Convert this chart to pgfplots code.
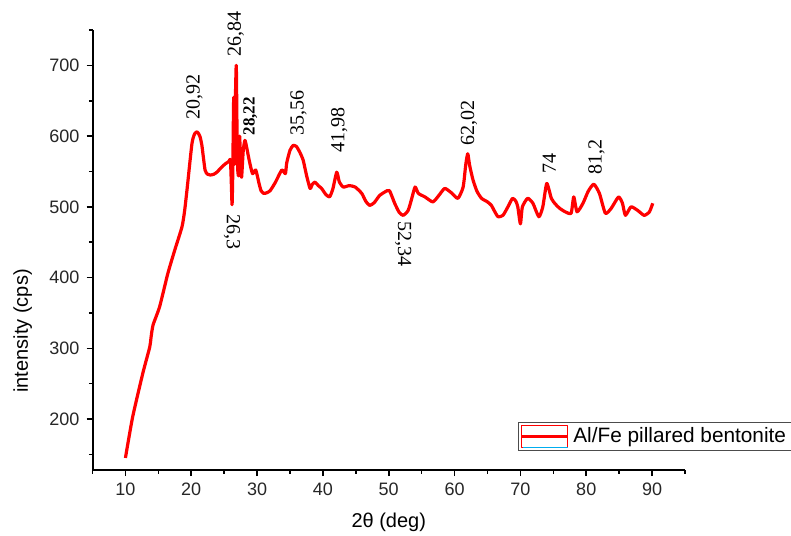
\documentclass[border=0pt]{standalone}
\usepackage{pgfplots}
\pgfplotsset{compat=1.18}
\usepackage{fontspec}
\setmainfont{Liberation Sans}
\newfontfamily\timesf{Liberation Serif}
\begin{document}
\begin{tikzpicture}
\useasboundingbox (0,0) rectangle (395.5pt,267.5pt);
\begin{axis}[
  at={(46.25pt,32.5pt)}, anchor=south west,
  scale only axis, width=296.25pt, height=220pt,
  xmin=5, xmax=95, ymin=128, ymax=750,
  axis x line*=bottom, axis y line*=left,
  clip=false,
  xtick={10,20,...,90}, minor xtick={5,15,...,95},
  ytick={200,300,...,700}, minor ytick={150,250,...,750},
  tick align=outside, major tick length=3pt, minor tick length=1.8pt,
  tick style={black, line width=0.8pt},
  axis line style={black, line width=1pt},
  /pgf/number format/assume math mode=true,
  tick label style={font=\fontsize{9}{10}\selectfont, text=black!85},
  xlabel={2θ (deg)}, ylabel={intensity (cps)},
  label style={font=\fontsize{10}{12}\selectfont},
  xlabel style={at={(axis description cs:0.5,-0.118)}, anchor=center},
  ylabel style={at={(axis description cs:-0.118,0.316)}, anchor=center, rotate=0},
  legend style={at={(0.718,0.0432)}, anchor=south west, draw=black!70, line width=0.4pt,
    inner xsep=1pt, inner ysep=0.5pt, font=\fontsize{10.4}{12}\selectfont,
    /tikz/every even column/.append style={column sep=1pt}},
  legend cell align=left,
  legend image code/.code={
    \draw[red, line width=0.4pt] (0pt,-5.5pt) rectangle (23pt,5.5pt);
    \draw[cyan, line width=0.8pt] (0.5pt,-5.5pt) -- (23pt,-5.5pt);
    \draw[red, line width=1.5pt] (0pt,0pt) -- (23pt,0pt);
  },
]
\addplot[red, line width=1.6pt, line join=round, smooth, tension=0.35] table {
x y
10 145
11.1 203
12.65 265
13.7 302
13.9 316
14.2 333
15.2 359
16.45 406
17.5 439
18.6 472
19.0 495
19.4 528
20.1 589
20.5 603
20.9 606
21.3 600
21.6 588
22.1 552
22.5 546
22.9 545
23.4 546
23.9 549
24.6 556
25.2 561
25.7 564
25.95 566
26.1 530
26.2 503
26.3 545
26.45 655
26.55 560
26.7 650
26.84 700
26.95 610
27.05 555
27.2 545
27.35 600
27.5 555
27.65 542
27.9 580
28.15 594
28.4 585
28.8 566
29.3 547
29.8 552
30.3 533
30.6 523
31.0 519
31.5 520
32.0 523
32.8 535
33.75 552
34.3 547
34.5 562
35.0 580
35.5 587
36.0 585
36.5 577
37.0 566
37.5 545
38.05 526
38.4 532
38.8 535
39.3 530
39.8 526
40.4 518
41.0 514
41.5 525
42.1 549
42.5 535
43.1 528
44.0 530
44.9 528
45.9 519
46.5 508
47.1 502
47.8 506
48.6 516
49.4 521
50.1 523
50.9 505
51.6 492
52.2 488
52.95 495
53.5 512
54.0 528
54.5 519
55.5 514
56.7 507
57.6 516
58.5 526
59.5 520
60.5 512
61.3 528
61.7 560
62.0 575
62.3 558
62.8 538
63.4 522
64.1 512
65.0 507
65.6 502
66.0 495
66.6 486
67.35 488
68.1 500
68.8 512
69.3 508
69.6 500
70.0 476
70.3 500
71.1 512
71.9 505
72.8 486
73.4 500
74.0 533
74.7 512
75.3 504
75.95 498
76.8 493
77.7 491
78.1 514
78.6 493
79.5 505
80.3 522
81.15 532
82.0 519
82.9 491
83.8 498
84.9 514
85.5 505
85.95 488
86.8 500
87.8 495
88.8 488
89.6 493
90.1 505
};
\addlegendentry{Al/Fe pillared bentonite}
\begin{scope}[every node/.style={font=\timesf\fontsize{10}{12}\selectfont, inner sep=0pt}]
\node[rotate=90] at (axis cs:20.5,655) {20,92};
\node[rotate=90] at (axis cs:26.75,744) {26,84};
\node[rotate=-90] at (axis cs:26.2,464) {26,3};
\node[rotate=90, font=\timesf\bfseries\fontsize{8.5}{10}\selectfont] at (axis cs:28.95,628) {28,22};
\node[rotate=90] at (axis cs:36.3,632) {35,56};
\node[rotate=90] at (axis cs:42.5,608) {41,98};
\node[rotate=-90] at (axis cs:52.2,448) {52,34};
\node[rotate=90] at (axis cs:62.2,619) {62,02};
\node[rotate=90] at (axis cs:74.4,561) {74};
\node[rotate=90] at (axis cs:81.55,571) {81,2};
\end{scope}
\end{axis}
\end{tikzpicture}
\end{document}
